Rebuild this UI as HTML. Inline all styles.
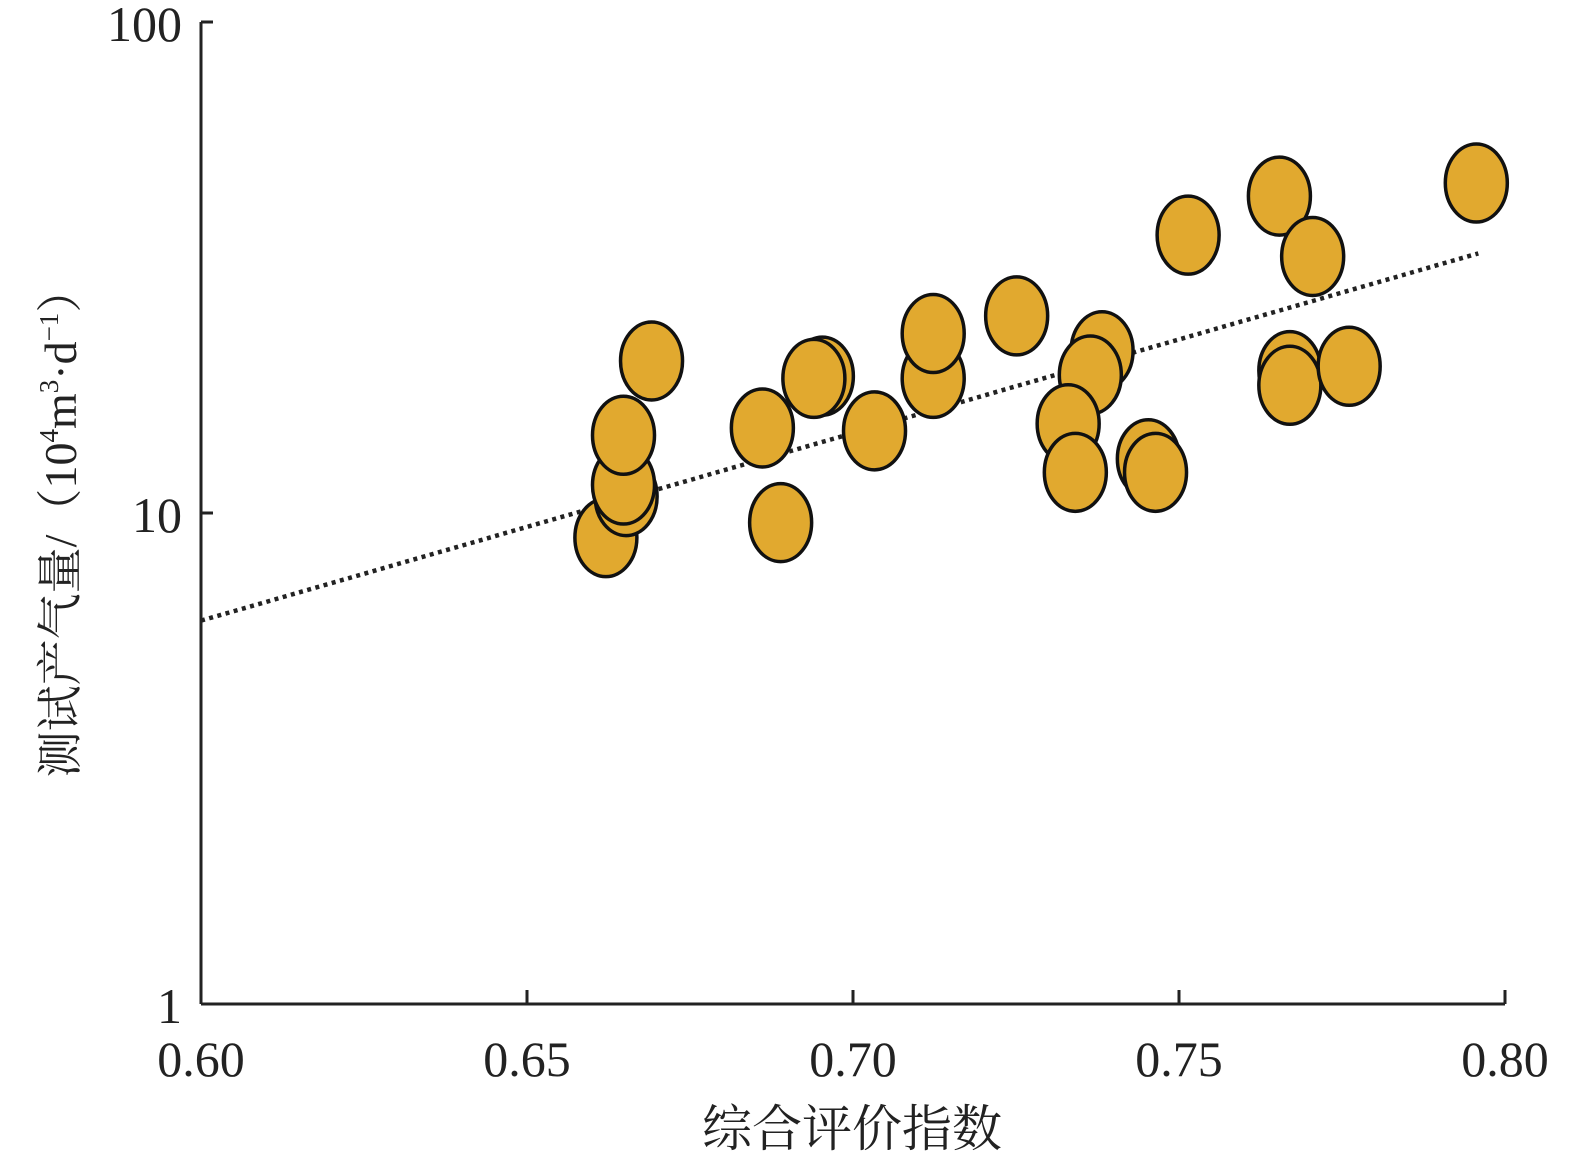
<!DOCTYPE html>
<html><head><meta charset="utf-8"><style>
html,body{margin:0;padding:0;background:#fff}
svg text{font-family:"Liberation Serif","Noto Serif CJK SC",serif;fill:#222}
</style></head><body>
<svg width="1575" height="1171" viewBox="0 0 1575 1171" xmlns="http://www.w3.org/2000/svg">
<g id="axes"></g>
<g id="trend"></g>
<g id="pts"></g>
<text x="852" y="1146" font-size="50" text-anchor="middle" style='font-family:"Liberation Serif","Noto Serif CJK SC",serif'>综合评价指数</text>
<text transform="translate(76,522) rotate(-90)" font-size="46" text-anchor="middle" style='font-family:"Liberation Serif","Noto Serif CJK SC",serif'>测试产气量/（10<tspan font-size="27" dy="-18">4</tspan><tspan dy="18">m</tspan><tspan font-size="27" dy="-18">3</tspan><tspan dy="18">·d</tspan><tspan font-size="27" dy="-18">−1</tspan><tspan dy="18">）</tspan></text>
</svg>
<script>
const xVals=[0.6621,0.6652,0.6648,0.6648,0.6691,0.6861,0.6889,0.6953,0.6940,0.7033,0.7123,0.7123,0.7251,0.7382,0.7364,0.7330,0.7341,0.7453,0.7464,0.7514,0.7654,0.7705,0.7670,0.7670,0.7761,0.7956];
const yVals=[8.91,10.8,11.4,14.4,20.4,14.9,9.56,19.0,18.8,14.7,18.8,23.2,25.2,21.4,19.1,15.2,12.1,12.9,12.1,36.8,44.2,33.3,19.5,18.2,19.9,47.0];
const xTicks=[0.60,0.65,0.70,0.75,0.80];
const xTickLabels=["0.60","0.65","0.70","0.75","0.80"];
const yTicks=[1,10,100];
const yTickLabels=["1","10","100"];
const trendA=-1.510, trendB=3.818, trendRange=[0.6,0.7959];
const NS="http://www.w3.org/2000/svg";
const X0=201,X1=1505,Y0=1004,DEC=491;
const sx=v=>X0+(v-0.6)/0.2*(X1-X0);
const sy=v=>Y0-Math.log10(v)*DEC;
function mk(tag,attrs,parent){const e=document.createElementNS(NS,tag);for(const k in attrs)e.setAttribute(k,attrs[k]);parent.appendChild(e);return e;}
const ax=document.getElementById('axes');
let l=mk('line',{x1:X0,y1:sy(100),x2:X0,y2:Y0,stroke:'#222','stroke-width':3},ax);


l=mk('line',{x1:X0,y1:Y0,x2:X1,y2:Y0,stroke:'#222','stroke-width':3},ax);


xTicks.forEach((t,i)=>{
 const tk=mk('line',{x1:sx(t),y1:Y0,x2:sx(t),y2:Y0-14,stroke:'#222','stroke-width':3},ax);
 
 
 const tx=mk('text',{x:sx(t),y:1076,'font-size':50,'text-anchor':'middle'},ax);
 tx.textContent=xTickLabels[i];
 
 
});
yTicks.forEach((t,i)=>{
 const tk=mk('line',{x1:X0,y1:sy(t),x2:X0+12,y2:sy(t),stroke:'#222','stroke-width':3},ax);
 
 
 const tx=mk('text',{x:182,y:sy(t)+19,'font-size':50,'text-anchor':'end'},ax);
 tx.textContent=yTickLabels[i];
 
 
});
const tg=document.getElementById('trend');
let d='';
for(let k=0;k<=60;k++){const x=trendRange[0]+(trendRange[1]-trendRange[0])*k/60;const y=Math.pow(10,trendA+trendB*x);d+=(k?'L':'M')+sx(x).toFixed(1)+' '+sy(y).toFixed(1);}
const tp=mk('path',{d:d,fill:'none',stroke:'#222','stroke-width':4.5,'stroke-dasharray':'4 4.5'},tg);


const pg=document.getElementById('pts');
xVals.forEach((x,i)=>{
 const e=mk('ellipse',{cx:sx(x),cy:sy(yVals[i]),rx:31,ry:39,fill:'#e1a92f',stroke:'#111','stroke-width':3.5},pg);
 
 
});
</script>
</body></html>
